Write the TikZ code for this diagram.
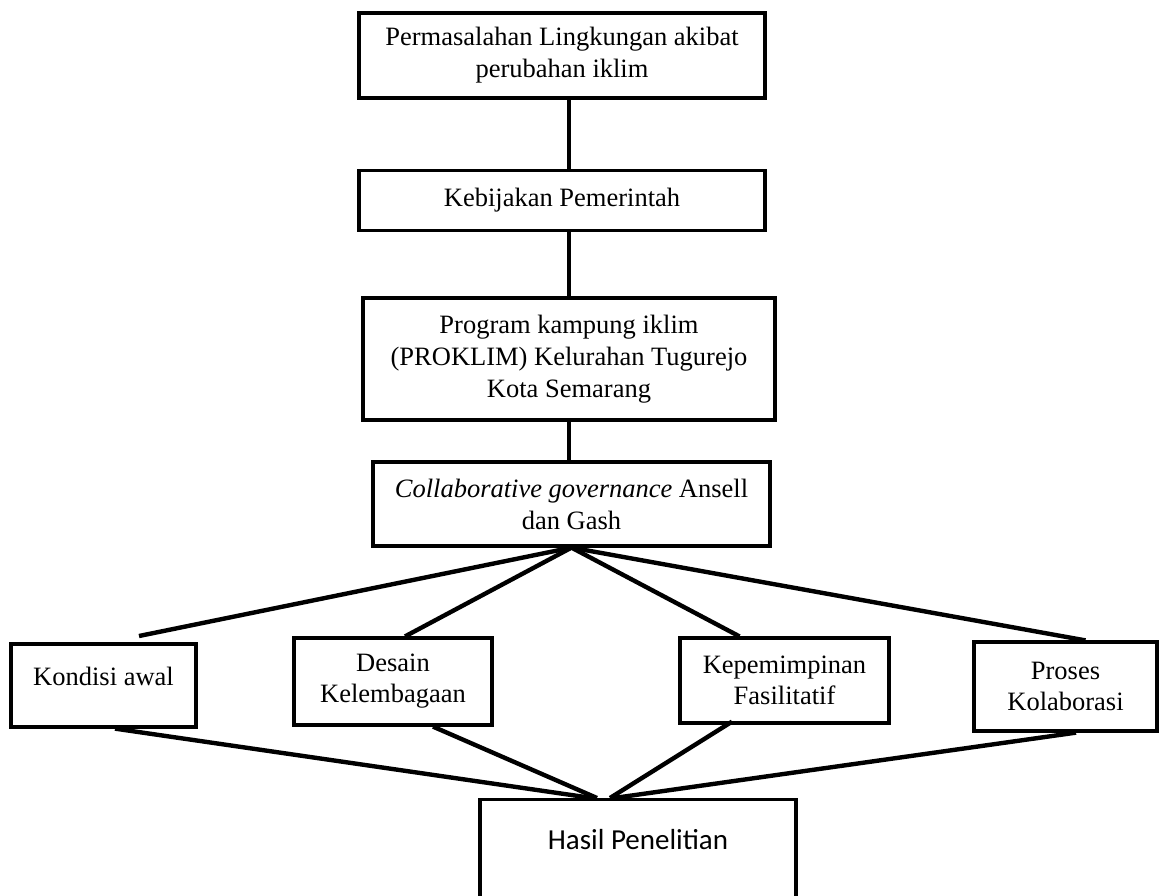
\documentclass[tikz,border=0pt]{standalone}
\usepackage{fontspec}
\setmainfont{Liberation Serif}
\newfontfamily\calibri{Carlito}
\usetikzlibrary{calc}

\tikzset{
 kotak/.style={draw, line width=1.6pt, align=center, inner sep=2pt, font=\fontsize{13.25}{16}\selectfont},
 kotakkecil/.style={kotak, font=\fontsize{13.25}{15.5}\selectfont},
 garis/.style={line width=2.2pt},
}

\begin{document}
\begin{tikzpicture}[x=0.5pt,y=-0.5pt]
\useasboundingbox (0,0) rectangle (1160,895);
\clip (0,0) rectangle (1160,895);
% alur atas
\node[kotak, minimum width=203pt, minimum height=42.5pt] (masalah) at (562,55.5) {Permasalahan Lingkungan akibat\\perubahan iklim};
\node[kotak, minimum width=203pt, minimum height=30pt] (kebijakan) at (562,200.5) {Kebijakan Pemerintah};
\node[kotak, minimum width=206pt, minimum height=61pt] (proklim) at (569,359) {Program kampung iklim\\(PROKLIM) Kelurahan Tugurejo\\Kota Semarang};
\node[kotak, minimum width=198.5pt, minimum height=42pt] (collab) at (571.5,504) {\textit{Collaborative governance} Ansell\\dan Gash};
\draw[garis] (masalah.south -| proklim) -- (kebijakan.north -| proklim);
\draw[garis] (kebijakan.south -| proklim) -- (proklim.north);
\draw[garis] (proklim.south) -- (proklim.south |- collab.north);
% empat dimensi
\node[kotakkecil, minimum width=92.5pt, minimum height=41.5pt, text depth=9pt] (kondisi) at (103.5,685.5) {Kondisi awal};
\node[kotakkecil, minimum width=99pt, minimum height=43.5pt] (desain) at (393,681.5) {Desain\\Kelembagaan};
\node[kotakkecil, minimum width=104.5pt, minimum height=42.5pt] (kepem) at (784.5,680.5) {Kepemimpinan\\Fasilitatif};
\node[kotakkecil, minimum width=91.5pt, minimum height=44.5pt] (proses) at (1065.5,686.5) {Proses\\Kolaborasi};
\coordinate (ujungkondisi) at (139,636);
\draw[garis] (collab.south) -- (ujungkondisi);
\foreach \n/\dx in {desain/12, kepem/-45, proses/20}
 \draw[garis] (collab.south) -- ($(\n.north)+(\dx,0)$);
% hasil
\node[kotak, anchor=north, minimum width=158pt, minimum height=60pt, text depth=20pt, font=\calibri\fontsize{14.5}{17}\selectfont] (hasil) at (638,798) {Hasil Penelitian};
\foreach \n/\dx/\dy/\hx in {kondisi/11.5/0/-46, desain/40/0/-41, kepem/-52.5/-3/-28, proses/10.5/0/-24}
 \draw[garis] ($(\n.south)+(\dx,\dy)$) -- ($(hasil.north)+(\hx,0)$);
\end{tikzpicture}
\end{document}
